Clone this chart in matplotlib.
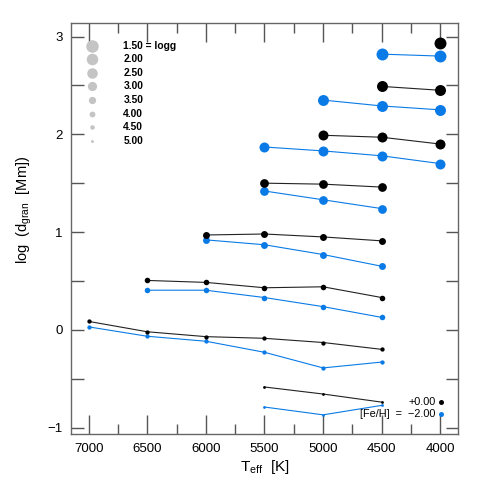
import matplotlib
matplotlib.use("Agg")
import matplotlib.pyplot as plt
import numpy as np

plt.rcParams['font.family'] = ['Liberation Sans', 'DejaVu Sans']
plt.rcParams['mathtext.fontset'] = 'custom'
plt.rcParams['mathtext.rm'] = 'Liberation Sans'

# effective temperatures per logg track (K)
loggs = [1.5, 2.0, 2.5, 3.0, 3.5, 4.0, 4.5, 5.0]

teff_solar = [
    [4000],
    [4500, 4000],
    [5000, 4500, 4000],
    [5500, 5000, 4500],
    [6000, 5500, 5000, 4500],
    [6500, 6000, 5500, 5000, 4500],
    [7000, 6500, 6000, 5500, 5000, 4500],
    [5500, 5000, 4500],
]
logd_solar = [
    [2.935],
    [2.49, 2.45],
    [1.99, 1.97, 1.90],
    [1.50, 1.49, 1.46],
    [0.97, 0.98, 0.95, 0.91],
    [0.505, 0.485, 0.43, 0.44, 0.33],
    [0.086, -0.02, -0.07, -0.087, -0.13, -0.20],
    [-0.585, -0.657, -0.74],
]

teff_poor = [
    [4500, 4000],
    [5000, 4500, 4000],
    [5500, 5000, 4500, 4000],
    [5500, 5000, 4500],
    [6000, 5500, 5000, 4500],
    [6500, 6000, 5500, 5000, 4500],
    [7000, 6500, 6000, 5500, 5000, 4500],
    [5500, 5000, 4500],
]
logd_poor = [
    [2.82, 2.80],
    [2.35, 2.29, 2.25],
    [1.87, 1.83, 1.78, 1.70],
    [1.42, 1.33, 1.24],
    [0.92, 0.87, 0.77, 0.65],
    [0.405, 0.405, 0.33, 0.237, 0.127],
    [0.03, -0.066, -0.117, -0.23, -0.39, -0.33],
    [-0.79, -0.87, -0.773],
]

legend_labels = ["1.50 = logg", "2.00", "2.50", "3.00", "3.50", "4.00", "4.50", "5.00"]

BLUE = "#0a7be6"
msizes = [8.6, 7.9, 7.2, 6.3, 5.0, 4.0, 3.1, 2.0]  # points, one per logg

fig = plt.figure(figsize=(4.8, 4.8), dpi=100)
ax = fig.add_axes([0.148, 0.095, 0.806, 0.858])

for i in range(len(loggs)):
    ax.plot(teff_poor[i], logd_poor[i], '-o', color=BLUE, lw=0.8,
            ms=msizes[i], mec='none', zorder=2)
    ax.plot(teff_solar[i], logd_solar[i], '-o', color='#222222', mfc='black',
            lw=0.8, ms=msizes[i], mec='none', zorder=3)

# logg size legend (top left)
for i, lab in enumerate(legend_labels):
    yy = 0.9434 - i * 0.03287
    ax.plot([0.0543], [yy], 'o', color='#c4c4c4', ms=msizes[i] * 1.05, mec='none',
            transform=ax.transAxes, clip_on=False)
    ax.text(0.135, yy, lab, transform=ax.transAxes, fontsize=7.4,
            fontweight='bold', va='center', ha='left')

# [Fe/H] legend (bottom right)
ax.text(0.9424, 0.078, "+0.00", transform=ax.transAxes, fontsize=7.8,
        ha='right', va='center')
ax.text(0.9424, 0.050, "[Fe/H]  =  \u22122.00", transform=ax.transAxes, fontsize=7.8,
        ha='right', va='center')
ax.plot([0.9553], [0.078], 'o', color='black', ms=3.6, mec='none', transform=ax.transAxes)
ax.plot([0.9553], [0.050], 'o', color=BLUE, ms=3.6, mec='none', transform=ax.transAxes)

ax.set_xlim(7150, 3850)
ax.set_ylim(-1.07, 3.143)

ax.set_xticks([7000, 6500, 6000, 5500, 5000, 4500, 4000])
ax.set_xticks(np.arange(4250, 7000, 500), minor=True)
ax.set_yticks([-1, 0, 1, 2, 3])
ax.set_yticks([-0.5, 0.5, 1.5, 2.5], minor=True)

ax.tick_params(which='both', direction='in', top=True, right=True,
               color='#555555', width=1, labelsize=9.5)
ax.tick_params(axis='x', which='major', length=14, pad=6)
ax.tick_params(axis='x', which='minor', length=7)
ax.tick_params(axis='y', which='both', length=9, pad=6)
for s in ax.spines.values():
    s.set_color('#666666')
    s.set_linewidth(1)

ax.set_xlabel(r'T$_{\rm eff}$  [K]', fontsize=11, labelpad=2)
ax.set_ylabel(r'log  (d$_{\rm gran}$  [Mm])', fontsize=10.5)
ax.yaxis.set_label_coords(-0.095, 0.545)

fig.savefig("out.png", dpi=100)
